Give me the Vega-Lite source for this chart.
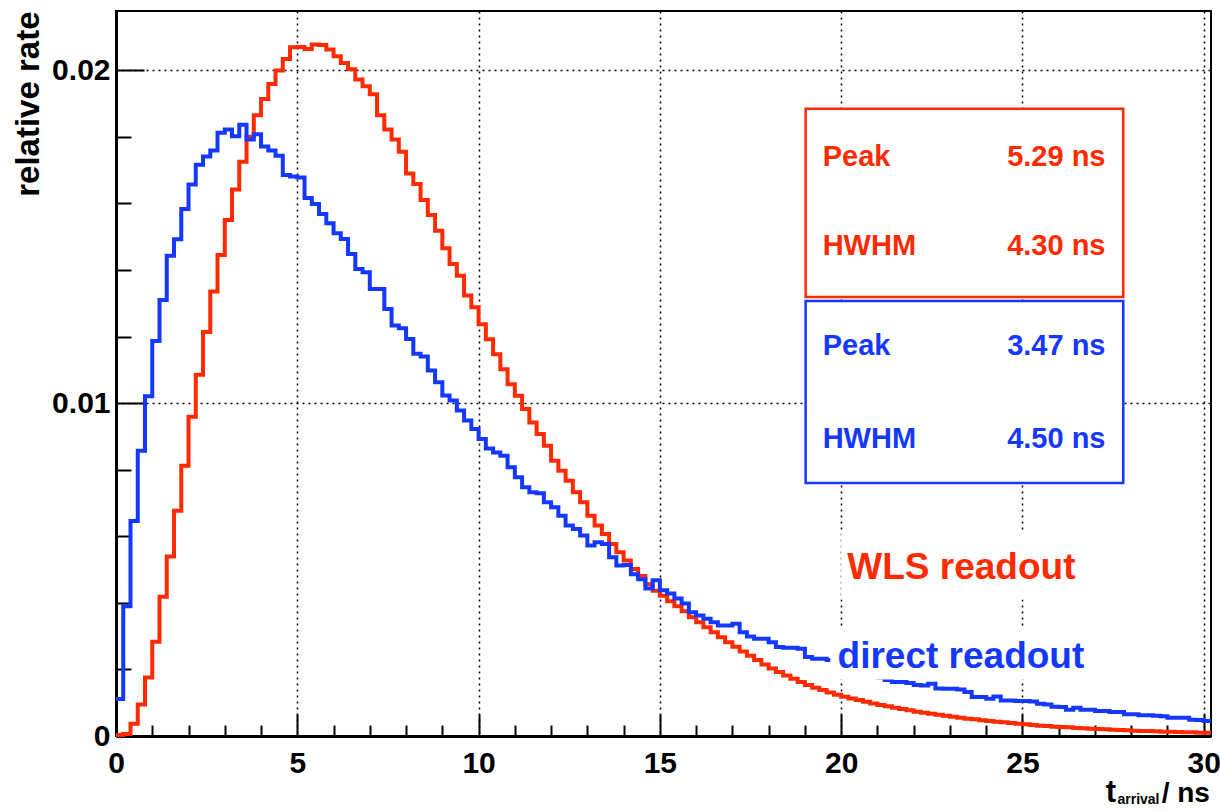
{
  "$schema": "https://vega.github.io/schema/vega-lite/v6.json",
  "width": 1095,
  "height": 725,
  "autosize": {"type": "none"},
  "padding": {"left": 116, "top": 11, "right": 9, "bottom": 75},
  "background": "white",
  "config": {"font": "Liberation Sans", "view": {"stroke": "black", "strokeWidth": 2}},
  "resolve": {"axis": {"x": "independent", "y": "independent"}},
  "datasets": {
    "hist": [
      {"t":0.0,"wls":0.00003,"direct":0.00111},{"t":0.2,"wls":0.00006,"direct":0.0039},{"t":0.4,"wls":0.00037,"direct":0.00646},{"t":0.6,"wls":0.00095,"direct":0.00857},{"t":0.8,"wls":0.00176,"direct":0.01021},
      {"t":1.0,"wls":0.00283,"direct":0.01187},{"t":1.2,"wls":0.00418,"direct":0.0131},{"t":1.4,"wls":0.00539,"direct":0.01443},{"t":1.6,"wls":0.00677,"direct":0.01492},{"t":1.8,"wls":0.00812,"direct":0.01583},
      {"t":2.0,"wls":0.00959,"direct":0.01657},{"t":2.2,"wls":0.01085,"direct":0.01716},{"t":2.4,"wls":0.01214,"direct":0.01741},{"t":2.6,"wls":0.01335,"direct":0.01759},{"t":2.8,"wls":0.01445,"direct":0.01812},
      {"t":3.0,"wls":0.0155,"direct":0.01822},{"t":3.2,"wls":0.01642,"direct":0.01802},{"t":3.4,"wls":0.01725,"direct":0.01836},{"t":3.6,"wls":0.018,"direct":0.01792},{"t":3.8,"wls":0.01865,"direct":0.01808},
      {"t":4.0,"wls":0.01914,"direct":0.01771},{"t":4.2,"wls":0.01959,"direct":0.01759},{"t":4.4,"wls":0.01999,"direct":0.01743},{"t":4.6,"wls":0.02034,"direct":0.01685},{"t":4.8,"wls":0.02069,"direct":0.01681},
      {"t":5.0,"wls":0.0207,"direct":0.01678},{"t":5.2,"wls":0.02064,"direct":0.01616},{"t":5.4,"wls":0.02077,"direct":0.01598},{"t":5.6,"wls":0.02076,"direct":0.01568},{"t":5.8,"wls":0.02062,"direct":0.0154},
      {"t":6.0,"wls":0.02042,"direct":0.0151},{"t":6.2,"wls":0.02022,"direct":0.01493},{"t":6.4,"wls":0.02003,"direct":0.01448},{"t":6.6,"wls":0.01972,"direct":0.01403},{"t":6.8,"wls":0.01952,"direct":0.01393},
      {"t":7.0,"wls":0.01928,"direct":0.01343},{"t":7.2,"wls":0.01865,"direct":0.01343},{"t":7.4,"wls":0.01822,"direct":0.01283},{"t":7.6,"wls":0.01792,"direct":0.01233},{"t":7.8,"wls":0.01755,"direct":0.01225},
      {"t":8.0,"wls":0.0169,"direct":0.01193},{"t":8.2,"wls":0.01658,"direct":0.01148},{"t":8.4,"wls":0.0161,"direct":0.0114},{"t":8.6,"wls":0.01565,"direct":0.01098},{"t":8.8,"wls":0.01518,"direct":0.01063},
      {"t":9.0,"wls":0.01465,"direct":0.01023},{"t":9.2,"wls":0.01418,"direct":0.01008},{"t":9.4,"wls":0.01383,"direct":0.00978},{"t":9.6,"wls":0.01323,"direct":0.00948},{"t":9.8,"wls":0.01288,"direct":0.00922},
      {"t":10.0,"wls":0.01237,"direct":0.00892},{"t":10.2,"wls":0.01192,"direct":0.00864},{"t":10.4,"wls":0.01147,"direct":0.00852},{"t":10.6,"wls":0.01102,"direct":0.00842},{"t":10.8,"wls":0.01057,"direct":0.00807},
      {"t":11.0,"wls":0.01022,"direct":0.00777},{"t":11.2,"wls":0.00982,"direct":0.00747},{"t":11.4,"wls":0.00942,"direct":0.00732},{"t":11.6,"wls":0.00907,"direct":0.00729},{"t":11.8,"wls":0.00872,"direct":0.00702},
      {"t":12.0,"wls":0.00827,"direct":0.00687},{"t":12.2,"wls":0.00797,"direct":0.00662},{"t":12.4,"wls":0.00767,"direct":0.00632},{"t":12.6,"wls":0.00732,"direct":0.00622},{"t":12.8,"wls":0.00702,"direct":0.00602},
      {"t":13.0,"wls":0.00662,"direct":0.00572},{"t":13.2,"wls":0.00632,"direct":0.00582},{"t":13.4,"wls":0.00607,"direct":0.00577},{"t":13.6,"wls":0.00577,"direct":0.00537},{"t":13.8,"wls":0.00552,"direct":0.00512},
      {"t":14.0,"wls":0.00527,"direct":0.00514},{"t":14.2,"wls":0.00502,"direct":0.00486},{"t":14.4,"wls":0.00481,"direct":0.00471},{"t":14.6,"wls":0.00456,"direct":0.00443},{"t":14.8,"wls":0.00436,"direct":0.00468},
      {"t":15.0,"wls":0.00421,"direct":0.00438},{"t":15.2,"wls":0.00405,"direct":0.00428},{"t":15.4,"wls":0.0039,"direct":0.00413},{"t":15.6,"wls":0.00375,"direct":0.00398},{"t":15.8,"wls":0.00357,"direct":0.00372},
      {"t":16.0,"wls":0.00342,"direct":0.00362},{"t":16.2,"wls":0.00327,"direct":0.00352},{"t":16.4,"wls":0.00312,"direct":0.00342},{"t":16.6,"wls":0.00297,"direct":0.00332},{"t":16.8,"wls":0.00282,"direct":0.00332},
      {"t":17.0,"wls":0.00268,"direct":0.00337},{"t":17.2,"wls":0.00254,"direct":0.00312},{"t":17.4,"wls":0.00241,"direct":0.00299},{"t":17.6,"wls":0.00228,"direct":0.00292},{"t":17.8,"wls":0.00215,"direct":0.00292},
      {"t":18.0,"wls":0.00203,"direct":0.00282},{"t":18.2,"wls":0.00192,"direct":0.00267},{"t":18.4,"wls":0.00182,"direct":0.00265},{"t":18.6,"wls":0.00172,"direct":0.00265},{"t":18.8,"wls":0.00162,"direct":0.00262},
      {"t":19.0,"wls":0.00153,"direct":0.00237},{"t":19.2,"wls":0.00145,"direct":0.00232},{"t":19.4,"wls":0.00138,"direct":0.00232},{"t":19.6,"wls":0.00131,"direct":0.00228},{"t":19.8,"wls":0.00124,"direct":0.00222},
      {"t":20.0,"wls":0.00118,"direct":0.00215},{"t":20.2,"wls":0.00113,"direct":0.00207},{"t":20.4,"wls":0.00108,"direct":0.002},{"t":20.6,"wls":0.00103,"direct":0.00192},{"t":20.8,"wls":0.00098,"direct":0.00185},
      {"t":21.0,"wls":0.00093,"direct":0.00176},{"t":21.2,"wls":0.00089,"direct":0.00168},{"t":21.4,"wls":0.00085,"direct":0.00162},{"t":21.6,"wls":0.00081,"direct":0.00162},{"t":21.8,"wls":0.00077,"direct":0.00159},
      {"t":22.0,"wls":0.00073,"direct":0.00153},{"t":22.2,"wls":0.0007,"direct":0.00152},{"t":22.4,"wls":0.00067,"direct":0.00157},{"t":22.6,"wls":0.00064,"direct":0.00143},{"t":22.8,"wls":0.00061,"direct":0.00142},
      {"t":23.0,"wls":0.00058,"direct":0.00142},{"t":23.2,"wls":0.00055,"direct":0.0014},{"t":23.4,"wls":0.00052,"direct":0.00132},{"t":23.6,"wls":0.0005,"direct":0.00117},{"t":23.8,"wls":0.00047,"direct":0.00117},
      {"t":24.0,"wls":0.00045,"direct":0.00112},{"t":24.2,"wls":0.00043,"direct":0.00119},{"t":24.4,"wls":0.00041,"direct":0.00107},{"t":24.6,"wls":0.00039,"direct":0.00107},{"t":24.8,"wls":0.00037,"direct":0.00105},
      {"t":25.0,"wls":0.00035,"direct":0.00105},{"t":25.2,"wls":0.00033,"direct":0.00104},{"t":25.4,"wls":0.00031,"direct":0.00097},{"t":25.6,"wls":0.0003,"direct":0.00095},{"t":25.8,"wls":0.00028,"direct":0.00088},
      {"t":26.0,"wls":0.00027,"direct":0.00087},{"t":26.2,"wls":0.00026,"direct":0.00079},{"t":26.4,"wls":0.00024,"direct":0.00085},{"t":26.6,"wls":0.00023,"direct":0.00079},{"t":26.8,"wls":0.00022,"direct":0.00079},
      {"t":27.0,"wls":0.00021,"direct":0.00075},{"t":27.2,"wls":0.0002,"direct":0.00075},{"t":27.4,"wls":0.00019,"direct":0.00072},{"t":27.6,"wls":0.00018,"direct":0.00072},{"t":27.8,"wls":0.00017,"direct":0.00065},
      {"t":28.0,"wls":0.00016,"direct":0.00065},{"t":28.2,"wls":0.00015,"direct":0.00062},{"t":28.4,"wls":0.00015,"direct":0.00062},{"t":28.6,"wls":0.00014,"direct":0.00061},{"t":28.8,"wls":0.00013,"direct":0.00059},
      {"t":29.0,"wls":0.00013,"direct":0.00055},{"t":29.2,"wls":0.00012,"direct":0.00055},{"t":29.4,"wls":0.00011,"direct":0.00055},{"t":29.6,"wls":0.00011,"direct":0.00049},{"t":29.8,"wls":0.0001,"direct":0.00048},
      {"t":30.0,"wls":0.0001,"direct":0.00045},{"t":30.2,"wls":0.0001,"direct":0.00045}
    ],
    "boxes": [
      {"series":"WLS","x":19.02,"x2":27.78,"y":0.01884,"y2":0.01319},
      {"series":"direct","x":19.02,"x2":27.78,"y":0.01307,"y2":0.0076}
    ],
    "statLabels": [
      {"series":"WLS","text":"Peak","x":19.49,"y":0.0174},
      {"series":"WLS","text":"HWHM","x":19.49,"y":0.01472},
      {"series":"direct","text":"Peak","x":19.49,"y":0.01172},
      {"series":"direct","text":"HWHM","x":19.49,"y":0.00892}
    ],
    "statValues": [
      {"series":"WLS","text":"5.29 ns","x":27.29,"y":0.0174},
      {"series":"WLS","text":"4.30 ns","x":27.29,"y":0.01472},
      {"series":"direct","text":"3.47 ns","x":27.29,"y":0.01172},
      {"series":"direct","text":"4.50 ns","x":27.29,"y":0.00892}
    ],
    "masks": [
      {"x":19.7,"x2":26.95,"y":0.0017,"y2":0.00326},
      {"x":20.0,"x2":27.0,"y":0.0041,"y2":0.0061}
    ],
    "readouts": [
      {"series":"WLS","text":"WLS readout","x":20.17,"y":0.00505},
      {"series":"direct","text":"direct readout","x":19.9,"y":0.00237}
    ],
    "xtitleMain": [
      {"text":"t","x":27.3,"y":-0.00198}
    ],
    "xtitleSub": [
      {"text":"arrival","x":27.62,"y":-0.00205}
    ],
    "xtitleUnit": [
      {"text":"/ ns","x":30.17,"y":-0.00198}
    ]
  },
  "layer": [
    {
      "data": {"name": "hist"},
      "mark": {"type": "line", "interpolate": "step-after", "color": "#ff2a00", "strokeWidth": 4},
      "encoding": {
        "x": {"field": "t", "type": "quantitative", "scale": {"domain": [0, 30.2], "nice": false, "zero": false},
          "axis": {"orient": "bottom", "values": [0,5,10,15,20,25,30], "title": null, "format": "d",
            "grid": true, "gridColor": "black", "gridDash": [2,4], "gridWidth": 1.5, "gridOpacity": 1,
            "tickSize": -22, "tickWidth": 2, "tickColor": "black", "domainColor": "black", "domainWidth": 3,
            "labelFontSize": 30, "labelFontWeight": "bold", "labelColor": "black", "labelPadding": 34, "labelFlush": false}},
        "y": {"field": "wls", "type": "quantitative", "scale": {"domain": [0, 0.02178], "nice": false},
          "axis": {"orient": "left", "values": [0, 0.01, 0.02], "labelExpr": "datum.value == 0 ? '0' : format(datum.value, '.2f')",
            "grid": true, "gridColor": "black", "gridDash": [2,4], "gridWidth": 1.5, "gridOpacity": 1,
            "tickSize": -28, "tickWidth": 2, "tickColor": "black", "domainColor": "black", "domainWidth": 3,
            "labelFontSize": 30, "labelFontWeight": "bold", "labelColor": "black", "labelPadding": 34,
            "title": "relative rate", "titleFontSize": 33, "titleFontWeight": "bold", "titleColor": "black",
            "titleAngle": -90, "titleX": -78, "titleY": 0, "titleAlign": "right", "titleBaseline": "alphabetic"}}
      }
    },
    {
      "data": {"name": "hist"},
      "mark": {"type": "line", "interpolate": "step-after", "color": "#1438ff", "strokeWidth": 4},
      "encoding": {
        "x": {"field": "t", "type": "quantitative",
          "axis": {"orient": "bottom", "values": [1,2,3,4,6,7,8,9,11,12,13,14,16,17,18,19,21,22,23,24,26,27,28,29], "title": null,
            "labels": false, "grid": false, "domain": false, "tickSize": -11, "tickWidth": 2, "tickColor": "black"}},
        "y": {"field": "direct", "type": "quantitative",
          "axis": {"orient": "left", "values": [0.002,0.004,0.006,0.008,0.012,0.014,0.016,0.018], "title": null,
            "labels": false, "grid": false, "domain": false, "tickSize": -15, "tickWidth": 2, "tickColor": "black"}}
      }
    },
    {
      "data": {"name": "boxes"},
      "mark": {"type": "rect", "fill": "white", "strokeWidth": 2.5},
      "encoding": {
        "x": {"field": "x", "type": "quantitative", "axis": null},
        "x2": {"field": "x2"},
        "y": {"field": "y", "type": "quantitative", "axis": null},
        "y2": {"field": "y2"},
        "stroke": {"field": "series", "type": "nominal", "scale": {"domain": ["WLS", "direct"], "range": ["#ff2a00", "#1438ff"]}, "legend": null}
      }
    },
    {
      "data": {"name": "masks"},
      "mark": {"type": "rect", "fill": "white", "strokeWidth": 0},
      "encoding": {
        "x": {"field": "x", "type": "quantitative", "axis": null},
        "x2": {"field": "x2"},
        "y": {"field": "y", "type": "quantitative", "axis": null},
        "y2": {"field": "y2"}
      }
    },
    {
      "data": {"name": "statLabels"},
      "mark": {"type": "text", "align": "left", "baseline": "middle", "fontSize": 29, "fontWeight": "bold"},
      "encoding": {
        "x": {"field": "x", "type": "quantitative", "axis": null},
        "y": {"field": "y", "type": "quantitative", "axis": null},
        "text": {"field": "text"},
        "color": {"field": "series", "type": "nominal", "scale": {"domain": ["WLS", "direct"], "range": ["#ff2a00", "#1438ff"]}, "legend": null}
      }
    },
    {
      "data": {"name": "statValues"},
      "mark": {"type": "text", "align": "right", "baseline": "middle", "fontSize": 29, "fontWeight": "bold"},
      "encoding": {
        "x": {"field": "x", "type": "quantitative", "axis": null},
        "y": {"field": "y", "type": "quantitative", "axis": null},
        "text": {"field": "text"},
        "color": {"field": "series", "type": "nominal", "scale": {"domain": ["WLS", "direct"], "range": ["#ff2a00", "#1438ff"]}, "legend": null}
      }
    },
    {
      "data": {"name": "readouts"},
      "mark": {"type": "text", "align": "left", "baseline": "middle", "fontSize": 37, "fontWeight": "bold"},
      "encoding": {
        "x": {"field": "x", "type": "quantitative", "axis": null},
        "y": {"field": "y", "type": "quantitative", "axis": null},
        "text": {"field": "text"},
        "color": {"field": "series", "type": "nominal", "scale": {"domain": ["WLS", "direct"], "range": ["#ff2a00", "#1438ff"]}, "legend": null}
      }
    },
    {
      "data": {"name": "xtitleMain"},
      "mark": {"type": "text", "align": "left", "baseline": "alphabetic", "fontSize": 31, "fontWeight": "bold", "color": "black"},
      "encoding": {
        "x": {"field": "x", "type": "quantitative", "axis": null},
        "y": {"field": "y", "type": "quantitative", "axis": null},
        "text": {"field": "text"}
      }
    },
    {
      "data": {"name": "xtitleSub"},
      "mark": {"type": "text", "align": "left", "baseline": "alphabetic", "fontSize": 14, "fontWeight": "bold", "color": "black"},
      "encoding": {
        "x": {"field": "x", "type": "quantitative", "axis": null},
        "y": {"field": "y", "type": "quantitative", "axis": null},
        "text": {"field": "text"}
      }
    },
    {
      "data": {"name": "xtitleUnit"},
      "mark": {"type": "text", "align": "right", "baseline": "alphabetic", "fontSize": 28, "fontWeight": "bold", "color": "black"},
      "encoding": {
        "x": {"field": "x", "type": "quantitative", "axis": null},
        "y": {"field": "y", "type": "quantitative", "axis": null},
        "text": {"field": "text"}
      }
    }
  ]
}
